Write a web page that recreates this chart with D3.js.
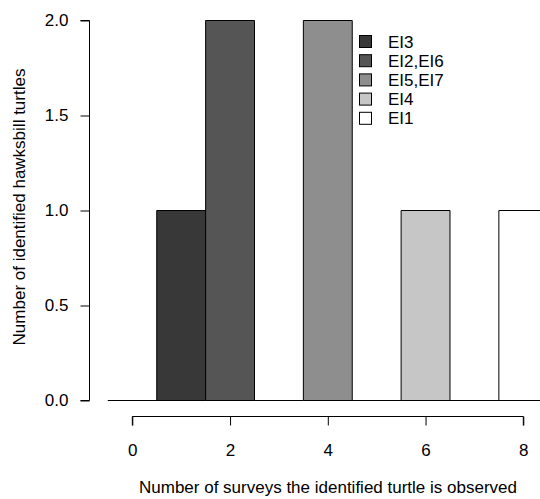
<!DOCTYPE html>
<html>
<head>
<meta charset="utf-8">
<script src="https://cdn.jsdelivr.net/npm/d3@7"></script>
<style>
  html, body { margin: 0; padding: 0; background: #fff; }
  svg { display: block; font-family: "Liberation Sans", Arial, sans-serif; }
</style>
</head>
<body>
<svg id="chart" width="540" height="499"></svg>
<script>
// Number of surveys each turtle was seen in, and how many turtles per count
const surveys = [0, 1, 2, 3, 4, 5, 6, 7, 8];
const turtleCounts = [0, 1, 2, 0, 2, 0, 1, 0, 1];
const barFills = ["#ffffff", "#383838", "#555555", "#ffffff", "#8e8e8e", "#ffffff", "#c6c6c6", "#ffffff", "#ffffff"];

// Legend entries
const legendLabels = ["EI3", "EI2,EI6", "EI5,EI7", "EI4", "EI1"];
const legendFills = ["#383838", "#555555", "#8e8e8e", "#c6c6c6", "#ffffff"];

const xTicks = [0, 2, 4, 6, 8];
const yTicks = [0, 0.5, 1, 1.5, 2];

const FONT = 17;
const svg = d3.select("#chart");

const x = d3.scaleLinear().domain([0, 8]).range([132.3, 523.3]);
const y = d3.scaleLinear().domain([0, 2]).range([400.5, 20.5]);
const halfW = (x(1) - x(0)) / 2;

// Bars as closed outlines, so empty counts still show as a baseline segment
svg.append("g")
  .selectAll("path")
  .data(surveys)
  .join("path")
  .attr("d", (d, i) => {
    const x0 = x(d) - halfW, x1 = x(d) + halfW;
    const y0 = y(0), y1 = y(turtleCounts[i]);
    return `M${x0},${y0}V${y1}H${x1}V${y0}Z`;
  })
  .attr("fill", (d, i) => barFills[i])
  .attr("stroke", "#000")
  .attr("stroke-width", 1);

// Y axis
const yAxis = svg.append("g")
  .attr("transform", "translate(89.5,0)")
  .call(d3.axisLeft(y).tickValues(yTicks).tickFormat(d3.format(".1f")).tickSize(9).tickPadding(12));
yAxis.select(".domain").attr("d", `M-9,${y(2)}H0V${y(0)}H-9`).attr("stroke", "#000");
yAxis.selectAll(".tick line").attr("stroke", "#000");
yAxis.selectAll(".tick text").attr("font-size", FONT).attr("fill", "#000")
  .attr("font-family", "Liberation Sans, Arial, sans-serif");

// X axis
const xAxis = svg.append("g")
  .attr("transform", "translate(0,416.5)")
  .call(d3.axisBottom(x).tickValues(xTicks).tickFormat(d3.format("d")).tickSize(9).tickPadding(18));
xAxis.select(".domain").attr("d", `M${x(0)},9V0H${x(8)}V9`).attr("stroke", "#000");
xAxis.selectAll(".tick line").attr("stroke", "#000");
xAxis.selectAll(".tick text").attr("font-size", FONT).attr("fill", "#000")
  .attr("font-family", "Liberation Sans, Arial, sans-serif");

// Axis titles
svg.append("text")
  .attr("x", 328)
  .attr("y", 493)
  .attr("text-anchor", "middle")
  .attr("font-size", FONT)
  .text("Number of surveys the identified turtle is observed");

svg.append("text")
  .attr("transform", "translate(25,207) rotate(-90)")
  .attr("text-anchor", "middle")
  .attr("font-size", FONT)
  .text("Number of identified hawksbill turtles");

// Legend
const legend = svg.append("g").attr("transform", "translate(359,35)");
const rows = legend.selectAll("g")
  .data(legendLabels)
  .join("g")
  .attr("transform", (d, i) => `translate(0,${i * 19.2})`);
rows.append("rect")
  .attr("x", 0.5).attr("y", 0.5)
  .attr("width", 12).attr("height", 12)
  .attr("fill", (d, i) => legendFills[i])
  .attr("stroke", "#000");
rows.append("text")
  .attr("x", 29)
  .attr("y", 12.5)
  .attr("font-size", FONT)
  .text((d) => d);
</script>
</body>
</html>
